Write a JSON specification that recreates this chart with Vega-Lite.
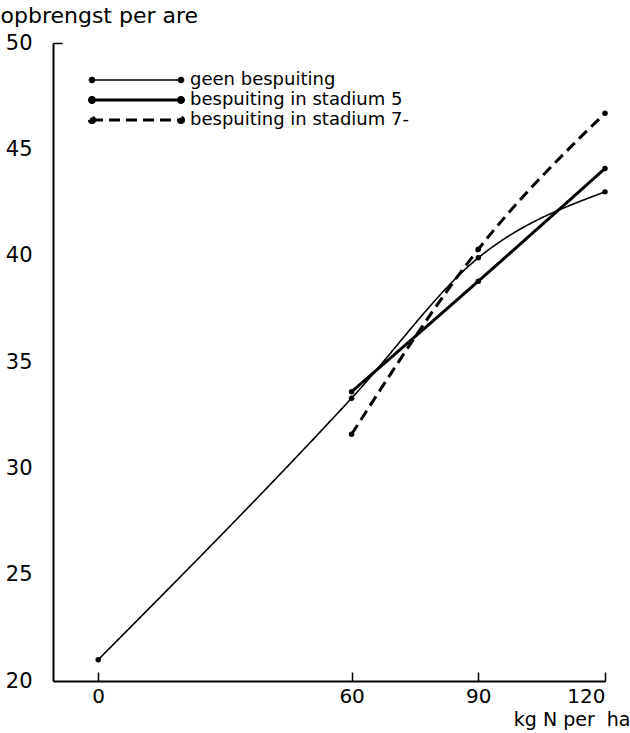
{
  "$schema": "https://vega.github.io/schema/vega-lite/v6.json",
  "width": 552,
  "height": 638,
  "autosize": {"type": "none"},
  "padding": {"left": 53, "top": 43, "right": 25, "bottom": 52},
  "background": "white",
  "config": {
    "view": {"stroke": null},
    "font": "DejaVu Sans",
    "axis": {"domainColor": "black", "tickColor": "black", "labelColor": "black", "titleColor": "black", "grid": false, "domainWidth": 2, "tickWidth": 1.5}
  },
  "data": {
    "values": [
      {"series": "geen bespuiting", "n": 0, "y": 21.0},
      {"series": "geen bespuiting", "n": 60, "y": 33.3},
      {"series": "geen bespuiting", "n": 90, "y": 39.9},
      {"series": "geen bespuiting", "n": 120, "y": 43.0},
      {"series": "bespuiting in stadium 5", "n": 60, "y": 33.6},
      {"series": "bespuiting in stadium 5", "n": 90, "y": 38.8},
      {"series": "bespuiting in stadium 5", "n": 120, "y": 44.1},
      {"series": "bespuiting in stadium 7-", "n": 60, "y": 31.6},
      {"series": "bespuiting in stadium 7-", "n": 90, "y": 40.3},
      {"series": "bespuiting in stadium 7-", "n": 120, "y": 46.7}
    ]
  },
  "encoding": {
    "x": {
      "field": "n", "type": "quantitative",
      "scale": {"domain": [-10.7, 120], "nice": false, "zero": false},
      "axis": {
        "values": [0, 60, 90, 120],
        "tickSize": -9,
        "labelFontSize": 20,
        "labelPadding": 14,
        "title": "kg N per \u00a0ha",
        "titleFontSize": 19,
        "titleFontWeight": "normal",
        "titleX": 577,
        "titleY": 38,
        "titleAlign": "right",
        "titleBaseline": "middle"
      }
    },
    "y": {
      "field": "y", "type": "quantitative",
      "scale": {"domain": [20, 50], "nice": false, "zero": false},
      "axis": {
        "values": [20, 25, 30, 35, 40, 45, 50],
        "tickSize": -9,
        "tickOpacity": {"condition": {"test": "datum.value == 50", "value": 1}, "value": 0},
        "labelFontSize": 21,
        "labelPadding": 30,
        "title": "opbrengst per are",
        "titleFontSize": 22,
        "titleFontWeight": "normal",
        "titleAngle": 0,
        "titleX": -53,
        "titleY": -28,
        "titleAlign": "left",
        "titleBaseline": "middle"
      }
    }
  },
  "layer": [
    {
      "mark": {"type": "line", "interpolate": "monotone", "color": "black"},
      "encoding": {
        "detail": {"field": "series"},
        "strokeDash": {
          "field": "series", "type": "nominal",
          "scale": {
            "domain": ["geen bespuiting", "bespuiting in stadium 5", "bespuiting in stadium 7-"],
            "range": [[1, 0], [1, 0], [11, 6]]
          },
          "legend": {
            "orient": "none",
            "legendX": 30,
            "legendY": 28,
            "padding": 0,
            "title": null,
            "labelFontSize": 18,
            "labelColor": "black",
            "labelLimit": 0,
            "labelOffset": 89,
            "symbolSize": 400,
            "symbolType": "M0,0L8.9,0M-0.25,0a0.25,0.25 0 1,0 0.5,0a0.25,0.25 0 1,0 -0.5,0M8.65,0a0.25,0.25 0 1,0 0.5,0a0.25,0.25 0 1,0 -0.5,0",
            "symbolStrokeColor": "black",
            "symbolFillColor": "black",
            "rowPadding": 2,
            "encode": {
              "symbols": {
                "update": {
                  "fill": {"value": "black"},
                  "stroke": {"value": "black"},
                  "strokeWidth": {"signal": "datum.value == 'geen bespuiting' ? 1.5 : 3"}
                }
              }
            }
          }
        },
        "strokeWidth": {"condition": {"test": "datum.series == 'geen bespuiting'", "value": 1.6}, "value": 3}
      }
    },
    {
      "mark": {"type": "point", "filled": true, "color": "black", "size": 30, "opacity": 1}
    }
  ]
}
